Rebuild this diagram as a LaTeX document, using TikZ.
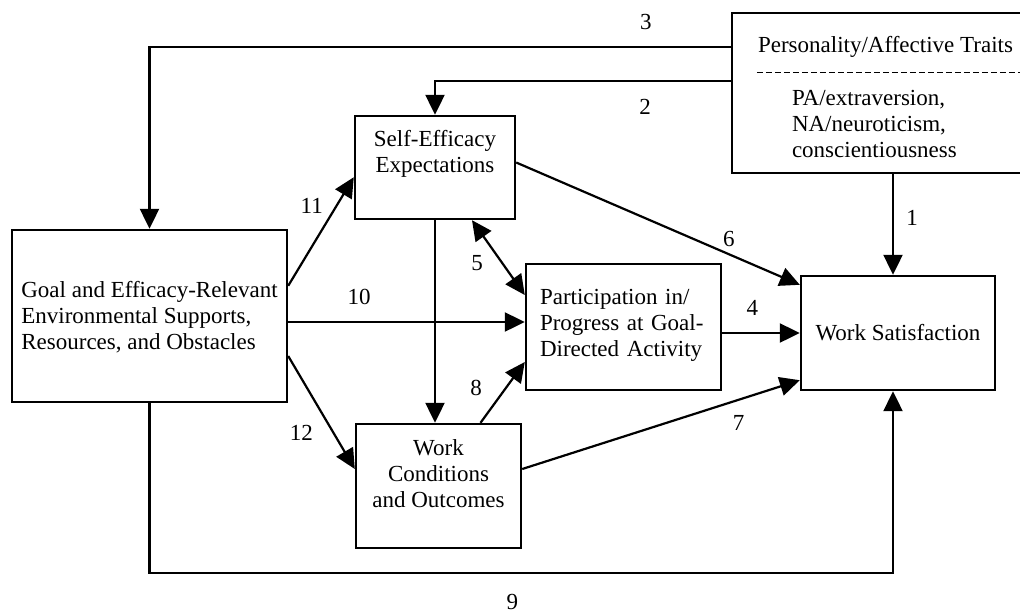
\documentclass[tikz,border=0pt]{standalone}
\usepackage{fontspec}
\setmainfont{Liberation Serif}
\usetikzlibrary{arrows.meta}

\begin{document}
\begin{tikzpicture}[x=1pt, y=-1pt, font=\fontsize{23}{26}\selectfont,
    box/.style={draw, line width=2.4pt, inner sep=0pt, align=center},
    arr/.style={line width=2.2pt, -{Triangle[length=20pt, width=19pt]}},
    darr/.style={{Triangle[length=20pt, width=19pt]}-{Triangle[length=20pt, width=19pt]}},
    num/.style={inner sep=1pt}]
        \useasboundingbox (0,0) rectangle (1020,614);

        \node[box, minimum width=307pt, text height=39pt, text depth=121pt] (pers) at (885.5,93) {Personality/Affective Traits};
        \node[align=left, inner sep=0pt, anchor=base west] (traits) at ([xshift=61pt, yshift=-64pt]pers.west) {PA/extraversion,\\ NA/neuroticism,\\ conscientiousness};
        \node[box, minimum width=160pt, text height=56pt, text depth=47pt] (self) at (435,167.5) {Self-Efficacy\\ Expectations};
        \node[box, align=left, minimum width=275pt, text height=119pt, text depth=53pt] (goal) at (149.5,316) {Goal and Efficacy-Relevant\\ Environmental Supports,\\ Resources, and Obstacles};
        \node[box, align=left, text width=167pt, minimum width=195pt, text height=40pt, text depth=86pt] (part) at (623.5,327) {Participation in/\\ Progress at Goal-\\ Directed Activity};
        \node[box, minimum width=194pt, minimum height=114pt] (sat) at (898,333) {Work Satisfaction};
        \node[box, minimum width=165pt, text height=83pt, text depth=41pt] (work) at (438.5,486) {Work\\ Conditions\\ and Outcomes};

        \draw[line width=1pt, dash pattern=on 6pt off 3pt] ([xshift=26pt, yshift=21pt]pers.west) -- ([yshift=21pt]pers.east);

        \draw[arr] ([yshift=46pt]pers.west) -| node[num, pos=0.073, yshift=25pt] {3} (goal.north);
        \draw[arr] ([yshift=12pt]pers.west) -| node[num, pos=0.145, yshift=-26pt] {2} (self.north);
        \draw[arr] ([xshift=-5pt]sat.north |- pers.south) -- node[num, pos=0.43, xshift=19pt] {1} ([xshift=-5pt]sat.north);

        \path[arr]
        (self.south) edge (self.south |- work.north)
        ([yshift=-57pt]goal.north east) edge node[num, pos=0.74, xshift=-25pt] {11} ([yshift=43pt]self.south west)
        ([yshift=-6pt]goal.east) edge node[num, pos=0.3, yshift=25pt] {10} ([yshift=-6pt]goal.east -| part.west)
        ([yshift=-40pt]goal.east) edge node[num, pos=0.68, xshift=-32pt] {12} ([yshift=17pt]work.west)
        ([xshift=42pt]work.north) edge node[num, pos=0.58, xshift=-30pt] {8} ([yshift=-35pt]part.west)
        (part.east |- sat.west) edge node[num, pos=0.39, yshift=25pt] {4} (sat.west)
        ([yshift=5pt]self.east) edge node[num, pos=0.75, yshift=15pt] {6} ([yshift=-10pt]sat.north west)
        ([yshift=17pt]work.east) edge node[num, pos=0.78, yshift=-23pt] {7} ([yshift=11pt]sat.south west)
        ([xshift=37pt]self.south) edge[darr] node[num, pos=0.57, xshift=-25pt] {5} ([yshift=32pt]part.west);

        \draw[arr] (goal.south) -- ++(0,170) -| node[num, pos=0.244, yshift=-29pt] {9} ([xshift=-5pt]sat.south);
\end{tikzpicture}
\end{document}
